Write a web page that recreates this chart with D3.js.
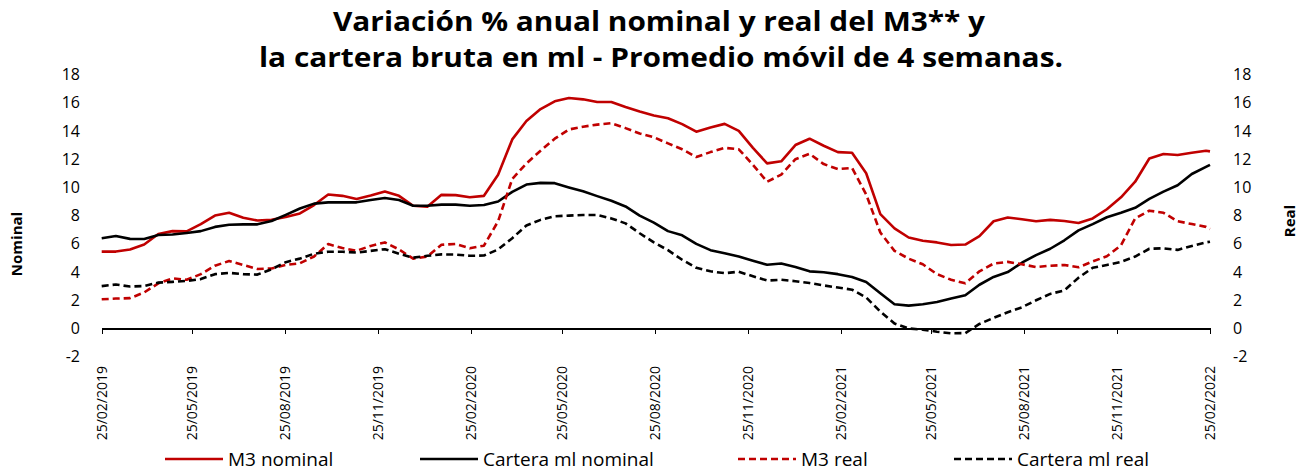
<!DOCTYPE html>
<html lang="es">

<head>
  <meta charset="utf-8">
  <script src="https://cdn.jsdelivr.net/npm/d3@7/dist/d3.min.js"></script>

  <style>
    body {
      margin: 0;
      background: #fff;
      font-family: "Open Sans", Lato, sans-serif;
    }

    .axis text {
      fill: #000;
      font-size: 16px;
      font-family: "Open Sans", sans-serif;
    }

    .x.axis path,
    .x.axis line {
      stroke: #000;
      stroke-width: 1.3;
      shape-rendering: crispEdges;
    }

    .title {
      font-weight: bold;
      font-size: 26px;
      text-anchor: middle;
    }

    .ylabel {
      font-weight: bold;
      font-size: 15px;
      text-anchor: middle;
    }

    .legend text {
      font-size: 19px;
    }
  </style>
</head>

<body>
  <svg id="chart" width="1302" height="471"></svg>

  <script>
    // biweekly dates, first 25/02/2019, last 25/02/2022
    var startDate = '2019-02-25';
    var endDate = '2022-02-25';

    var m3Nominal = [5.45, 5.45, 5.6, 5.95, 6.7, 6.9, 6.88, 7.4, 8.0, 8.2,
      7.85, 7.65, 7.7, 7.9, 8.15, 8.75, 9.5, 9.4, 9.18, 9.42,
      9.7, 9.4, 8.7, 8.63, 9.47, 9.45, 9.3, 9.4, 10.9, 13.4,
      14.7, 15.55, 16.1, 16.33, 16.24, 16.05, 16.05, 15.7, 15.38, 15.1,
      14.9, 14.48, 13.95, 14.25, 14.5, 14.0, 12.8, 11.7, 11.85, 13.0,
      13.45, 12.95, 12.5, 12.45, 11.0, 8.1, 7.1, 6.45, 6.22, 6.1,
      5.92, 5.95, 6.55, 7.6, 7.87, 7.74, 7.6, 7.7, 7.62, 7.48,
      7.8, 8.45, 9.3, 10.4, 12.05, 12.37, 12.3, 12.45, 12.6, 12.55];

    var carteraNominal = [6.4, 6.55, 6.35, 6.34, 6.62, 6.66, 6.77, 6.9, 7.2, 7.35,
      7.38, 7.38, 7.62, 8.05, 8.5, 8.85, 8.94, 8.94, 8.94, 9.1,
      9.25, 9.1, 8.7, 8.7, 8.78, 8.78, 8.7, 8.75, 9.0, 9.68,
      10.2, 10.32, 10.3, 10.0, 9.72, 9.38, 9.05, 8.65, 8.0, 7.5,
      6.9, 6.6, 6.0, 5.55, 5.33, 5.1, 4.8, 4.52, 4.6, 4.35,
      4.05, 3.98, 3.85, 3.65, 3.3, 2.5, 1.72, 1.62, 1.72, 1.88,
      2.12, 2.35, 3.1, 3.65, 4.0, 4.66, 5.2, 5.65, 6.25, 6.95,
      7.4, 7.88, 8.2, 8.55, 9.18, 9.7, 10.15, 10.95, 11.45, 11.6];

    var m3Real = [2.07, 2.12, 2.15, 2.55, 3.2, 3.55, 3.45, 3.85, 4.45, 4.78,
      4.5, 4.22, 4.25, 4.5, 4.62, 5.1, 5.98, 5.7, 5.51, 5.85,
      6.1, 5.6, 4.95, 5.1, 5.93, 5.99, 5.68, 5.87, 7.6, 10.6,
      11.7, 12.6, 13.45, 14.1, 14.3, 14.45, 14.55, 14.2, 13.82, 13.55,
      13.12, 12.7, 12.15, 12.5, 12.8, 12.7, 11.6, 10.4, 10.9, 12.0,
      12.38, 11.65, 11.3, 11.38, 9.5, 6.8, 5.5, 4.95, 4.55, 3.85,
      3.45, 3.2, 4.05, 4.6, 4.72, 4.55, 4.35, 4.45, 4.5, 4.34,
      4.75, 5.12, 5.9, 7.8, 8.35, 8.2, 7.6, 7.4, 7.2, 7.05];

    var carteraReal = [3.0, 3.12, 2.97, 3.01, 3.25, 3.3, 3.37, 3.5, 3.85, 3.94,
      3.85, 3.82, 4.2, 4.7, 4.95, 5.3, 5.44, 5.44, 5.38, 5.5,
      5.62, 5.3, 5.02, 5.15, 5.25, 5.24, 5.15, 5.17, 5.6, 6.4,
      7.3, 7.7, 7.95, 8.0, 8.04, 8.04, 7.8, 7.45, 6.75, 6.1,
      5.55, 4.87, 4.3, 4.05, 3.92, 4.02, 3.7, 3.4, 3.45, 3.35,
      3.22, 3.05, 2.9, 2.75, 2.2, 1.2, 0.35, 0.0, -0.08, -0.23,
      -0.34, -0.33, 0.32, 0.75, 1.15, 1.5, 2.0, 2.45, 2.7, 3.6,
      4.3, 4.5, 4.72, 5.1, 5.65, 5.68, 5.57, 5.85, 6.1, 6.15];

    var xTickLabels = ['25/02/2019', '25/05/2019', '25/08/2019', '25/11/2019',
      '25/02/2020', '25/05/2020', '25/08/2020', '25/11/2020',
      '25/02/2021', '25/05/2021', '25/08/2021', '25/11/2021', '25/02/2022'];

    var yTicks = [-2, 0, 2, 4, 6, 8, 10, 12, 14, 16, 18];

    var seriesNames = ['M3 nominal', 'Cartera ml nominal', 'M3 real', 'Cartera ml real'];

    var parseDate = d3.timeParse('%Y-%m-%d');
    var parseLabel = d3.timeParse('%d/%m/%Y');
    var formatLabel = d3.timeFormat('%d/%m/%Y');

    var dates = m3Nominal.map(function (d, i) {
      return d3.timeDay.offset(parseDate(startDate), i * 14);
    });
    dates[dates.length - 1] = parseDate(endDate);

    var red = '#c00000';
    var series = [
      { name: seriesNames[0], values: m3Nominal, color: red, dash: null },
      { name: seriesNames[1], values: carteraNominal, color: '#000', dash: null },
      { name: seriesNames[2], values: m3Real, color: red, dash: '7,4' },
      { name: seriesNames[3], values: carteraReal, color: '#000', dash: '7,4' }
    ];

    var margin = { left: 101.7, right: 1210, top: 74.5, bottom: 356.7 };

    var xScale = d3.scaleTime()
      .domain([parseDate(startDate), parseDate(endDate)])
      .range([margin.left, margin.right]);

    var yScale = d3.scaleLinear()
      .domain([-2, 18])
      .range([margin.bottom, margin.top]);

    var svg = d3.select('#chart');

    // title (stretched like the original)
    svg.append('text').attr('class', 'title')
      .attr('x', 659).attr('y', 31)
      .attr('textLength', 652).attr('lengthAdjust', 'spacingAndGlyphs')
      .text('Variación % anual nominal y real del M3** y');
    svg.append('text').attr('class', 'title')
      .attr('x', 661).attr('y', 67)
      .attr('textLength', 804).attr('lengthAdjust', 'spacingAndGlyphs')
      .text('la cartera bruta en ml - Promedio móvil de 4 semanas.');

    // y axes, labels only (plain hyphen for negatives)
    var plain = function (d) { return String(d); };

    svg.append('g')
      .attr('class', 'y axis')
      .attr('transform', 'translate(84,0)')
      .call(d3.axisLeft(yScale).tickValues(yTicks).tickSize(0).tickPadding(4).tickFormat(plain))
      .call(function (g) { g.select('.domain').remove(); });

    svg.append('g')
      .attr('class', 'y axis')
      .attr('transform', 'translate(1229,0)')
      .call(d3.axisRight(yScale).tickValues(yTicks).tickSize(0).tickPadding(4).tickFormat(plain))
      .call(function (g) { g.select('.domain').remove(); });

    svg.append('text').attr('class', 'ylabel')
      .attr('transform', 'translate(22,244) rotate(-90)')
      .text('Nominal');
    svg.append('text').attr('class', 'ylabel')
      .attr('transform', 'translate(1295,221) rotate(-90)')
      .text('Real');

    // x axis at zero
    var xTickDates = xTickLabels.map(parseLabel);
    svg.append('g')
      .attr('class', 'x axis')
      .attr('transform', 'translate(0,' + yScale(0) + ')')
      .call(d3.axisBottom(xScale).tickValues(xTickDates).tickSize(6).tickSizeOuter(6).tickFormat(''));

    svg.selectAll('.xlabel')
      .data(xTickDates)
      .enter().append('text')
      .attr('class', 'xlabel')
      .attr('transform', function (d) { return 'translate(' + xScale(d) + ',366) rotate(-90)'; })
      .attr('text-anchor', 'end')
      .attr('dy', '0.35em')
      .style('font-size', '14px')
      .text(function (d) { return formatLabel(d); });

    // lines
    var line = d3.line()
      .x(function (d, i) { return xScale(dates[i]); })
      .y(function (d) { return yScale(d); });

    svg.selectAll('.series')
      .data(series)
      .enter().append('path')
      .attr('class', 'series')
      .attr('d', function (s) { return line(s.values); })
      .attr('fill', 'none')
      .attr('stroke', function (s) { return s.color; })
      .attr('stroke-width', 2.6)
      .attr('stroke-linejoin', 'round')
      .attr('stroke-dasharray', function (s) { return s.dash; });

    // legend
    var legendX = [165, 420, 738, 954];
    var legend = svg.append('g').attr('class', 'legend');
    var item = legend.selectAll('g')
      .data(series)
      .enter().append('g')
      .attr('transform', function (s, i) { return 'translate(' + legendX[i] + ',459)'; });
    item.append('line')
      .attr('x1', 0).attr('x2', 58)
      .attr('stroke', function (s) { return s.color; })
      .attr('stroke-width', 2.6)
      .attr('stroke-dasharray', function (s) { return s.dash; });
    item.append('text')
      .attr('x', 63).attr('dy', '0.35em')
      .text(function (s) { return s.name; });
  </script>
</body>

</html>
